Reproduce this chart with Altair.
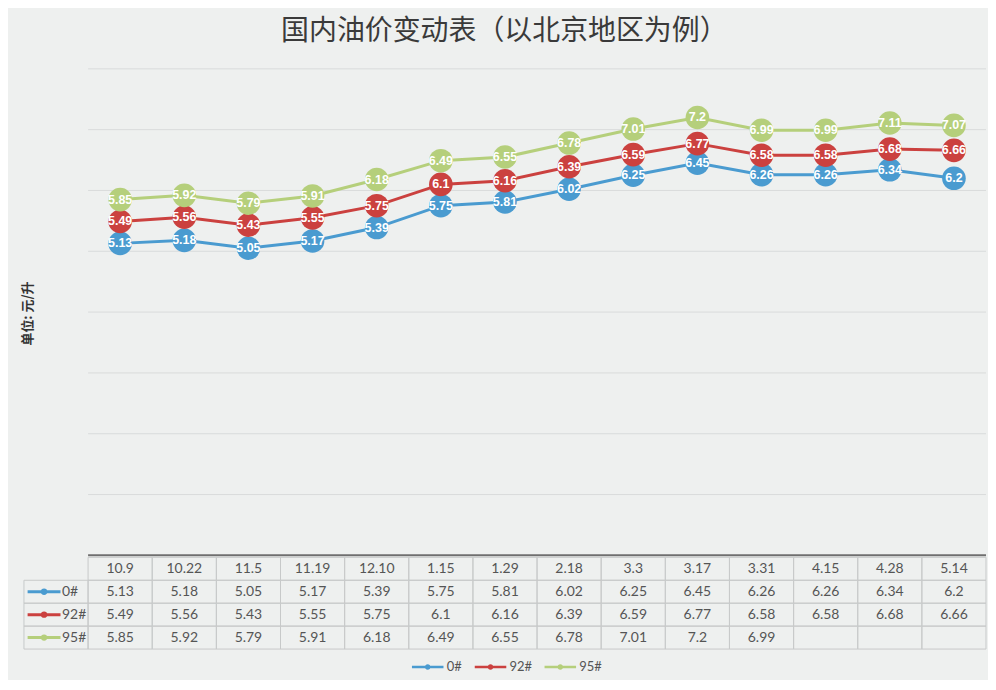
import altair as alt
import pandas as pd

# ---------------- data ----------------
dates = ["10.9", "10.22", "11.5", "11.19", "12.10", "1.15", "1.29",
         "2.18", "3.3", "3.17", "3.31", "4.15", "4.28", "5.14"]
series = ["0#", "92#", "95#"]
p0 = [5.13, 5.18, 5.05, 5.17, 5.39, 5.75, 5.81, 6.02, 6.25, 6.45, 6.26, 6.26, 6.34, 6.2]
p92 = [5.49, 5.56, 5.43, 5.55, 5.75, 6.1, 6.16, 6.39, 6.59, 6.77, 6.58, 6.58, 6.68, 6.66]
p95 = [5.85, 5.92, 5.79, 5.91, 6.18, 6.49, 6.55, 6.78, 7.01, 7.2, 6.99, 6.99, 7.11, 7.07]
table_95_filled = 11          # the data table's 95# row is blank after 3.31
grid_values = [1, 2, 3, 4, 5, 6, 7, 8]
colors = ["#4a9bd0", "#cb413f", "#b5cf7b"]
title_text = "国内油价变动表（以北京地区为例）"
y_title = "单位: 元/升"

# ---------------- tables ----------------
cols = [""] + dates
rows_tbl = ["hdr"] + series

recs = []
for s, vals in zip(series, [p0, p92, p95]):
    for i, (d, v) in enumerate(zip(dates, vals)):
        recs.append({"series": s, "date": d, "idx": i, "value": v, "label": f"{v:g}"})
df = pd.DataFrame(recs)

cell_recs = []
for i, d in enumerate(dates):
    cell_recs.append({"col": d, "row": "hdr", "text": d})
for s, vals in zip(series, [p0, p92, p95]):
    for i, (d, v) in enumerate(zip(dates, vals)):
        shown = not (s == "95#" and i >= table_95_filled)
        cell_recs.append({"col": d, "row": s, "text": f"{v:g}" if shown else ""})
    cell_recs.append({"col": "", "row": s, "text": ""})
cells = pd.DataFrame(cell_recs)
label_df = pd.DataFrame({"col": [""] * len(series), "row": series, "key": series})

# ---------------- scales ----------------
W = 965
xs = alt.Scale(domain=cols, paddingInner=0, paddingOuter=0)
ys = alt.Scale(domain=[0, 8], nice=False)
cs = alt.Scale(domain=series, range=colors)
tys = alt.Scale(domain=rows_tbl, paddingInner=0, paddingOuter=0)

yaxis = alt.Axis(labels=False, ticks=False, domain=False, grid=False,
                 minExtent=0, titleX=11, titleY=245, titleAngle=270,
                 titleFont="Noto Sans CJK SC", titleFontSize=13,
                 titleFontWeight="bold", titleColor="#333333")
Y = alt.Y("value:Q", scale=ys, axis=yaxis, title=y_title)
Xd = alt.X("date:N", scale=xs, axis=None)

grid = alt.Chart(pd.DataFrame({"value": grid_values})).mark_rule(
    color="#d9dbdb", strokeWidth=1).encode(
    x=alt.XDatum(dates[0], type="nominal", bandPosition=0, scale=xs, axis=None),
    x2=alt.X2Datum(dates[-1], bandPosition=1),
    y=Y)

base_line = alt.Chart(pd.DataFrame({"value": [0]})).mark_rule(
    color="#6f6f6f", strokeWidth=2).encode(
    x=alt.XDatum(dates[0], type="nominal", bandPosition=0, scale=xs, axis=None),
    x2=alt.X2Datum(dates[-1], bandPosition=1),
    y=Y)

lines = alt.Chart(df).mark_line(strokeWidth=3).encode(
    x=Xd, y=Y, order=alt.Order("idx:Q"),
    stroke=alt.Stroke("series:N", scale=cs, legend=None))

points = alt.Chart(df).mark_circle(size=560, opacity=1).encode(
    x=Xd, y=Y, fill=alt.Fill("series:N", scale=cs, legend=None))

labels = alt.Chart(df).mark_text(
    color="white", fontWeight="bold", fontSize=12.5,
    font="'Liberation Sans Narrow', 'Liberation Sans', sans-serif").encode(
    x=Xd, y=Y, text="label:N")

top = alt.layer(grid, base_line, lines, points, labels).properties(width=W, height=488)

# ---------------- data table ----------------
Xc = alt.X("col:N", scale=xs, axis=None)
Yr = alt.Y("row:N", scale=tys, axis=None)

rects = alt.Chart(cells).mark_rect(fill="transparent", stroke="#c8caca", strokeWidth=1).encode(
    x=Xc, y=Yr)
cell_text = alt.Chart(cells).mark_text(fontSize=14, color="#555555", font="Lato").encode(
    x=Xc, y=Yr, text="text:N")
row_names = alt.Chart(label_df).mark_text(
    align="left", dx=6, fontSize=14, color="#555555", font="Lato").encode(
    x=Xc, y=Yr, text="row:N")
sym_lines = alt.Chart(label_df).mark_point(
    shape="M-1,0H1", size=1089, strokeWidth=3, filled=False, opacity=1, xOffset=-12).encode(
    x=Xc, y=Yr, stroke=alt.Stroke("row:N", scale=cs, legend=None))
legend_path = ("M-1,-0.08H1V0.08H-1Z"
               "M-0.18,0A0.18,0.18,0,1,1,0.18,0A0.18,0.18,0,1,1,-0.18,0Z")
sym_dots = alt.Chart(label_df).mark_circle(size=40, opacity=1, xOffset=-12).encode(
    x=Xc, y=Yr,
    color=alt.Color("key:N", scale=cs, legend=alt.Legend(
        title=None, orient="none", direction="horizontal",
        legendX=389, legendY=584,
        symbolType=legend_path, symbolSize=1000,
        symbolStrokeWidth=0, labelFontSize=13, labelColor="#555555",
        labelFont="Lato", columnPadding=12, labelOffset=3)))

table = alt.layer(rects, cell_text, row_names, sym_lines, sym_dots).properties(width=W, height=92)

chart = alt.vconcat(top, table, spacing=0).resolve_scale(
    fill="independent", stroke="independent").properties(
    title=alt.TitleParams(text=title_text, font="Noto Sans CJK SC", fontSize=28,
                          fontWeight="normal", color="#3a3a3a", anchor="middle", offset=22),
    background="#eef0ef",
    padding={"left": 13, "top": 9, "right": 0, "bottom": 5},
).configure_view(stroke=None)

chart.save("out.html", embed_options={"renderer": "svg", "actions": False})
